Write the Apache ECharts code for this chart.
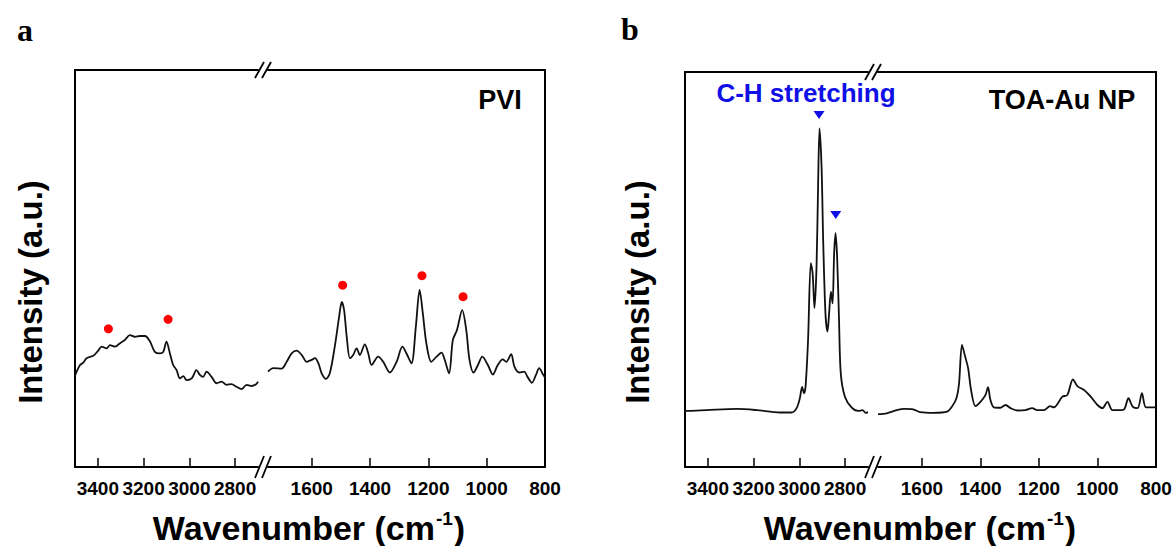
<!DOCTYPE html>
<html>
<head>
<meta charset="utf-8">
<title>Raman spectra - PVI / TOA-Au NP</title>
<script src="https://cdn.jsdelivr.net/npm/echarts@6/dist/echarts.min.js"></script>
<style>
  html, body { margin: 0; padding: 0; background: #fff; }
  #main { width: 1175px; height: 546px; }
</style>
</head>
<body>
<div id="main"></div>
<script>
// two halves of the broken wavenumber axis
var highRange = [2700, 3500];
var lowRange = [800, 1750];
var highTicks = [3400, 3200, 3000, 2800];
var lowTicks = [1600, 1400, 1200, 1000, 800];

// panel a: PVI, [wavenumber, intensity a.u.]
var pviHigh = [[3500,23.0],[3496,23.6],[3478,25.7],[3465,26.2],[3449,27.4],[3420,28.0],[3400,29.2],[3383,30.3],[3362,29.9],[3347,30.7],[3325,30.3],[3303,31.2],[3282,32.0],[3260,33.2],[3238,32.8],[3216,33.0],[3194,33.0],[3172,31.6],[3151,29.0],[3129,28.6],[3114,29.0],[3100,31.6],[3085,28.6],[3071,25.7],[3056,24.4],[3041,22.3],[3027,22.9],[3012,21.9],[2990,22.3],[2969,24.4],[2954,23.2],[2940,22.7],[2925,24.0],[2903,22.7],[2881,21.1],[2859,21.5],[2838,20.7],[2816,20.9],[2794,20.2],[2772,19.6],[2750,20.7],[2728,20.4],[2707,20.9],[2700,21.5]];
var pviLow = [[1750,24.0],[1732,24.9],[1703,24.8],[1686,26.5],[1669,28.6],[1652,29.3],[1634,28.2],[1617,26.5],[1600,27.0],[1589,27.4],[1577,26.1],[1566,23.6],[1551,22.2],[1538,23.6],[1521,30.3],[1506,37.9],[1497,41.6],[1489,39.5],[1480,32.8],[1469,27.4],[1458,28.2],[1446,29.9],[1435,28.2],[1418,30.9],[1406,28.6],[1395,25.7],[1372,27.8],[1355,26.5],[1332,23.8],[1309,26.5],[1289,30.3],[1275,28.6],[1258,26.1],[1243,35.3],[1230,44.6],[1219,38.7],[1207,31.2],[1190,26.5],[1172,27.8],[1155,28.8],[1144,27.0],[1129,23.6],[1116,32.0],[1102,34.5],[1084,39.5],[1070,34.5],[1059,27.0],[1045,23.8],[1030,25.7],[1015,27.8],[996,25.7],[979,23.3],[962,25.7],[945,27.1],[933,26.5],[916,28.4],[905,25.3],[888,23.8],[871,24.0],[860,22.7],[845,21.2],[831,23.2],[820,24.9],[806,23.2],[800,22.5]];
var pviDotsHigh = [[3354,34.8],[3093,37.2]];
var pviDotsLow = [[1494,45.8],[1222,48.2],[1081,42.9]];

// panel b: TOA-Au NP
var toaHigh = [[3500,14.2],[3486,14.2],[3405,14.4],[3274,14.7],[3187,14.4],[3085,13.8],[3034,13.8],[3012,14.9],[2998,17.4],[2988,20.3],[2980,18.7],[2973,20.3],[2962,32.2],[2950,51.6],[2942,49.0],[2934,40.2],[2925,50.7],[2918,71.8],[2912,85.7],[2903,76.0],[2896,57.5],[2886,38.9],[2877,34.3],[2870,38.9],[2862,44.4],[2855,41.4],[2848,54.1],[2842,59.2],[2835,53.2],[2827,38.0],[2819,23.7],[2801,17.8],[2772,15.1],[2743,14.2],[2724,14.4],[2710,13.7],[2700,13.9]];
var toaLow = [[1750,13.4],[1720,13.6],[1686,14.4],[1660,14.7],[1630,14.6],[1606,13.9],[1560,13.7],[1514,14.0],[1497,15.3],[1482,17.4],[1473,21.2],[1463,30.9],[1452,27.9],[1442,25.0],[1432,19.5],[1417,15.4],[1400,16.5],[1383,18.2],[1374,20.2],[1366,17.0],[1354,15.1],[1332,15.0],[1314,15.7],[1297,14.9],[1274,14.3],[1246,14.4],[1223,14.9],[1206,14.4],[1183,14.4],[1162,15.4],[1149,15.1],[1120,17.8],[1103,18.2],[1084,22.2],[1069,20.5],[1046,19.5],[1023,17.8],[1000,15.7],[983,14.9],[966,16.5],[949,14.4],[926,14.4],[909,14.6],[894,17.4],[880,15.3],[863,14.9],[848,18.7],[834,15.1],[800,15.1]];
var toaMarks = [[2914,89.1],[2841,63.8]];

var FONT = "'Liberation Sans', Arial, sans-serif";
var AXIS = { color: '#000', width: 2 };

function bottomAxis(g, range, ticks) {
  return {
    type: 'value', gridIndex: g, min: range[0], max: range[1], inverse: true, position: 'bottom',
    axisLine: { onZero: false, lineStyle: AXIS },
    axisTick: { inside: true, length: 9, customValues: ticks, lineStyle: { color: '#000', width: 1.5 } },
    axisLabel: { customValues: ticks, margin: 12, color: '#000', fontSize: 19, fontWeight: 'bold', fontFamily: FONT,
      formatter: function (v) { return String(v); } },
    splitLine: { show: false }
  };
}
function topAxis(g, range) {
  return {
    type: 'value', gridIndex: g, min: range[0], max: range[1], inverse: true, position: 'top',
    axisLine: { onZero: false, lineStyle: AXIS },
    axisTick: { show: false }, axisLabel: { show: false }, splitLine: { show: false }
  };
}
function sideAxis(g, side) {
  return {
    type: 'value', gridIndex: g, min: 0, max: 100, position: side,
    axisLine: { show: true, onZero: false, lineStyle: AXIS },
    axisTick: { show: false }, axisLabel: { show: false }, splitLine: { show: false }
  };
}
function curve(g, data) {
  return { type: 'line', xAxisIndex: 2 * g, yAxisIndex: g, data: data, showSymbol: false, smooth: 0.3,
    lineStyle: { color: '#111', width: 1.8 }, silent: true };
}
function dots(g, data) {
  return { type: 'scatter', xAxisIndex: 2 * g, yAxisIndex: g, data: data, symbolSize: 9,
    itemStyle: { color: '#f00', opacity: 1 }, silent: true };
}

var chart = echarts.init(document.getElementById('main'), null, { renderer: 'svg' });

var option = {
  animation: false,
  backgroundColor: '#fff',
  grid: [
    { left: 75, top: 70, width: 183, height: 397 },
    { left: 268, top: 70, width: 277, height: 397 },
    { left: 685, top: 72, width: 183, height: 395 },
    { left: 878, top: 72, width: 278, height: 395 }
  ],
  xAxis: [
    bottomAxis(0, highRange, highTicks), topAxis(0, highRange),
    bottomAxis(1, lowRange, lowTicks), topAxis(1, lowRange),
    bottomAxis(2, highRange, highTicks), topAxis(2, highRange),
    bottomAxis(3, lowRange, lowTicks), topAxis(3, lowRange)
  ],
  yAxis: [sideAxis(0, 'left'), sideAxis(1, 'right'), sideAxis(2, 'left'), sideAxis(3, 'right')],
  series: [
    curve(0, pviHigh), curve(1, pviLow),
    dots(0, pviDotsHigh), dots(1, pviDotsLow),
    curve(2, toaHigh), curve(3, toaLow),
    { type: 'scatter', xAxisIndex: 4, yAxisIndex: 2, data: toaMarks, symbol: 'triangle', symbolRotate: 180,
      symbolSize: [11, 8], itemStyle: { color: '#0f0fe6', opacity: 1 }, silent: true }
  ]
};
chart.setOption(option);

// break marks "//" on top and bottom frame lines, placed between the two halves
var graphic = [];
[0, 1].forEach(function (p) {
  var xa = chart.convertToPixel({ xAxisIndex: 4 * p }, highRange[0]);
  var xb = chart.convertToPixel({ xAxisIndex: 4 * p + 2 }, lowRange[1]);
  var cx = (xa + xb) / 2;
  var yTop = chart.convertToPixel({ yAxisIndex: 2 * p }, 100);
  var yBot = chart.convertToPixel({ yAxisIndex: 2 * p }, 0);
  [[yTop, 16], [yBot, 22]].forEach(function (b) {
    [-3.5, 3.5].forEach(function (dx) {
      graphic.push({ type: 'line', silent: true,
        shape: { x1: cx + dx - 4.5, y1: b[0] + b[1] / 2, x2: cx + dx + 4.5, y2: b[0] - b[1] / 2 },
        style: { stroke: '#000', lineWidth: 1.8 } });
    });
  });
});

function label(x, y, text, size, extra) {
  var st = { text: text, x: x, y: y, fill: '#000', fontSize: size, fontWeight: 'bold', fontFamily: FONT,
    textAlign: 'center', textVerticalAlign: 'middle' };
  for (var k in extra) st[k] = extra[k];
  return { type: 'text', silent: true, style: st };
}

var serif = "'Liberation Serif', 'Times New Roman', serif";
graphic.push(label(25, 30, 'a', 32, { fontFamily: serif }));
graphic.push(label(630, 29, 'b', 32, { fontFamily: serif }));
graphic.push(label(500, 100, 'PVI', 27));
graphic.push(label(1062, 100, 'TOA-Au NP', 27));
graphic.push(label(806, 93, 'C-H stretching', 26, { fill: '#0f0fe6' }));

[[30, 292], [637, 292]].forEach(function (pos) {
  graphic.push({ type: 'text', silent: true, x: pos[0], y: pos[1], rotation: Math.PI / 2,
    style: { text: 'Intensity (a.u.)', fill: '#000', fontSize: 33, fontWeight: 'bold', fontFamily: FONT,
      textAlign: 'center', textVerticalAlign: 'middle' } });
});

[309, 920].forEach(function (cx) {
  graphic.push({ type: 'text', silent: true, x: cx, y: 528,
    style: {
      text: '{a|Wavenumber (cm}{s|-1}{a|)}',
      textAlign: 'center', textVerticalAlign: 'middle',
      rich: {
        a: { fontSize: 34, fontWeight: 'bold', fontFamily: FONT, fill: '#000', lineHeight: 38 },
        s: { fontSize: 19, fontWeight: 'bold', fontFamily: FONT, fill: '#000', verticalAlign: 'top', lineHeight: 38, padding: [0, 1, 0, 1] }
      }
    } });
});

chart.setOption({ graphic: graphic });
</script>
</body>
</html>
